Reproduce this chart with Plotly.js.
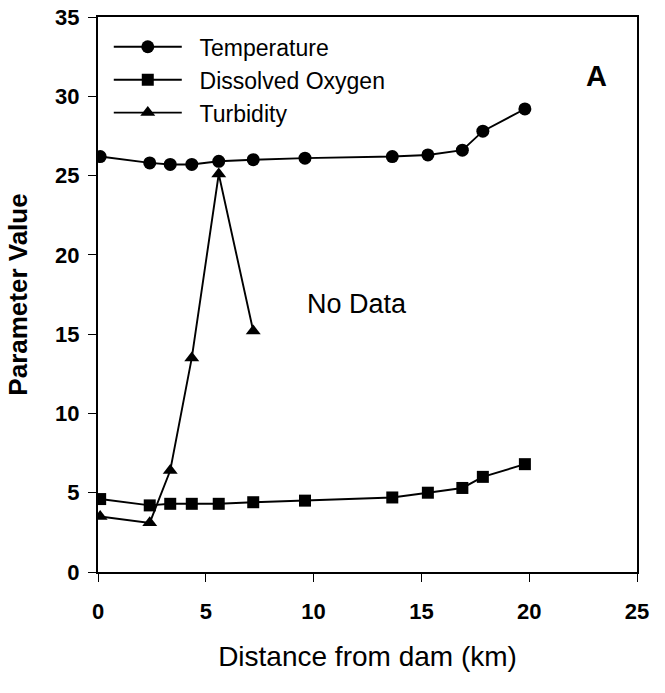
<!DOCTYPE html>
<html>
<head>
<meta charset="utf-8">
<script src="https://cdn.plot.ly/plotly-3.0.1.min.js"></script>
<style>html,body{margin:0;padding:0;background:#fff;}#chart{width:665px;height:693px;}</style>
</head>
<body>
<div id="chart"></div>
<script>
const distance = [0.1, 2.4, 3.35, 4.35, 5.6, 7.2, 9.6, 13.65, 15.3, 16.9, 17.85, 19.8];
const temperature = [26.2, 25.8, 25.7, 25.7, 25.9, 26.0, 26.1, 26.2, 26.3, 26.6, 27.8, 29.2];
const dissolvedOxygen = [4.6, 4.2, 4.3, 4.3, 4.3, 4.4, 4.5, 4.7, 5.0, 5.3, 6.0, 6.8];
const turbidityDistance = [0.1, 2.4, 3.35, 4.35, 5.6, 7.2];
const turbidity = [3.5, 3.1, 6.4, 13.5, 25.1, 15.2];
const xTicks = [0, 5, 10, 15, 20, 25];
const yTicks = [0, 5, 10, 15, 20, 25, 30, 35];
const seriesNames = ['Temperature', 'Dissolved Oxygen', 'Turbidity'];

const FONT = 'Liberation Sans, Arial, sans-serif';
const lineStyle = {color: '#000', width: 1.9};
const pad = '\u00a0\u00a0';

const traces = [
  {x: distance, y: temperature, name: pad + seriesNames[0], mode: 'lines+markers',
   line: lineStyle, marker: {symbol: 'circle', size: 13, color: '#000'}},
  {x: distance, y: dissolvedOxygen, name: pad + seriesNames[1], mode: 'lines+markers',
   line: lineStyle, marker: {symbol: 'square', size: 12, color: '#000'}},
  {x: turbidityDistance, y: turbidity, name: pad + seriesNames[2], mode: 'lines+markers',
   line: lineStyle, marker: {symbol: 'triangle-up', size: 13, color: '#000'}}
];

const layout = {
  width: 665, height: 693,
  margin: {l: 98, r: 28, t: 17, b: 121},
  paper_bgcolor: '#fff', plot_bgcolor: '#fff',
  font: {family: FONT, color: '#000'},
  showlegend: true,
  legend: {x: 0.02, y: 0.985, xanchor: 'left', yanchor: 'top',
           font: {family: FONT, size: 23, color: '#000'},
           bgcolor: 'rgba(0,0,0,0)', itemwidth: 68, tracegroupgap: 0},
  xaxis: {range: [0, 25], tickvals: xTicks, ticktext: xTicks.map(String),
          showgrid: false, zeroline: false, showline: true, linecolor: '#000', linewidth: 2,
          mirror: true, ticks: 'outside', ticklen: 8, tickcolor: '#000', tickwidth: 1,
          ticklabelstandoff: 11,
          tickfont: {family: FONT, size: 22, color: '#000', weight: 'bold'},
          title: {text: 'Distance from dam (km)', font: {family: FONT, size: 28, color: '#000'}, standoff: 23}},
  yaxis: {range: [0, 35], tickvals: yTicks, ticktext: yTicks.map(String),
          showgrid: false, zeroline: false, showline: true, linecolor: '#000', linewidth: 2,
          mirror: true, ticks: 'outside', ticklen: 8, tickcolor: '#000', tickwidth: 1,
          ticklabelstandoff: 4,
          tickfont: {family: FONT, size: 22, color: '#000', weight: 'bold'},
          title: {text: 'Parameter Value', font: {family: FONT, size: 26, color: '#000', weight: 'bold'}, standoff: 20}},
  annotations: [
    {x: 12.0, y: 16.9, xref: 'x', yref: 'y', text: 'No Data', showarrow: false,
     font: {family: FONT, size: 27, color: '#000'}},
    {x: 0.948, y: 0.926, xref: 'paper', yref: 'paper', text: '<b>A</b>', showarrow: false,
     font: {family: FONT, size: 29, color: '#000'}}
  ]
};

Plotly.newPlot('chart', traces, layout, {displayModeBar: false, staticPlot: true});
</script>
</body>
</html>
